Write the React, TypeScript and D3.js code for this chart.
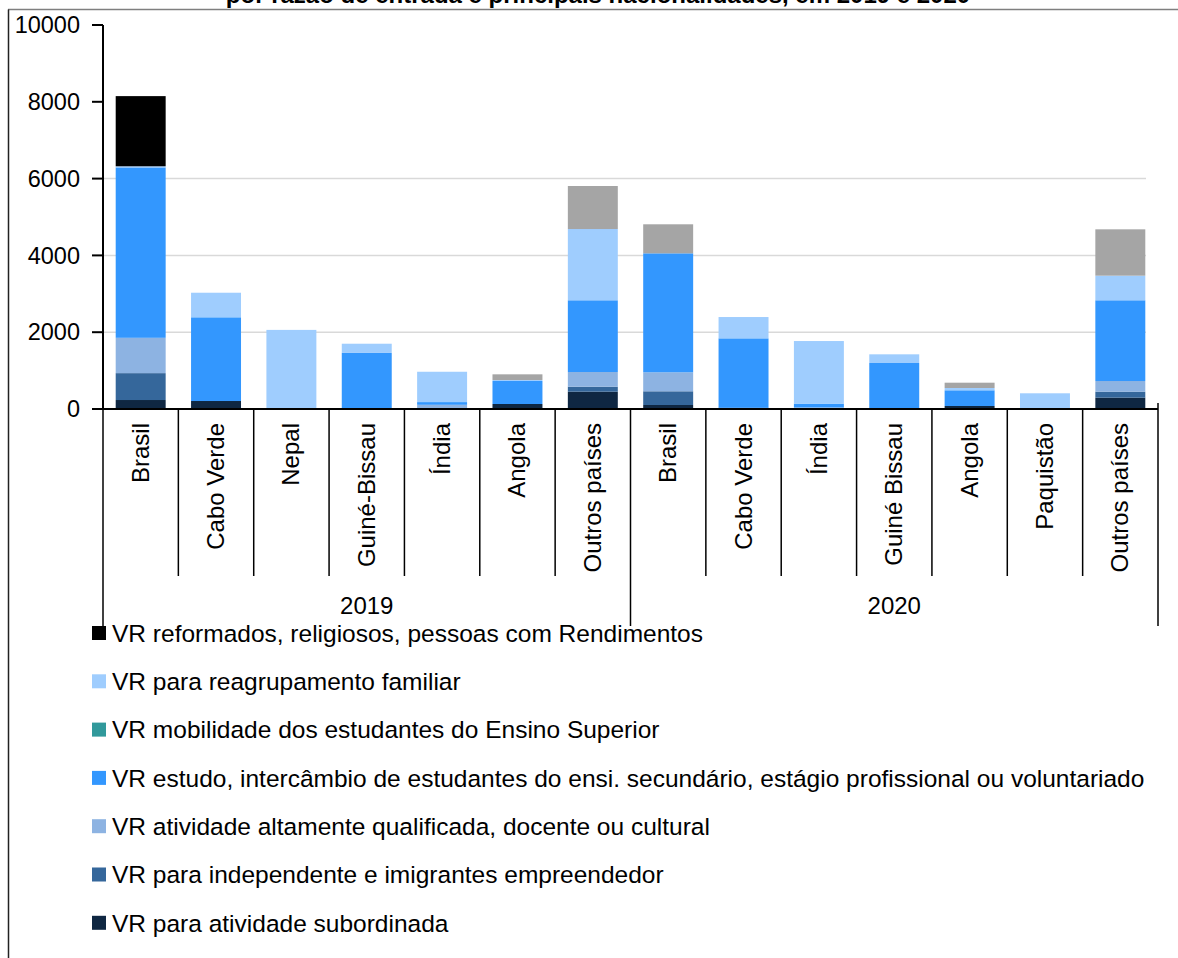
import React from 'react';
import * as d3 from 'd3';

// categories (two years, 7 nationalities each)
const years = ['2019', '2020'];
const countries = [
  'Brasil', 'Cabo Verde', 'Nepal', 'Guiné-Bissau', 'Índia', 'Angola', 'Outros países',
  'Brasil', 'Cabo Verde', 'Índia', 'Guiné Bissau', 'Angola', 'Paquistão', 'Outros países',
];

// series values, stacked bottom -> top
const subordinada = [234, 208, 0, 0, 0, 130, 451, 104, 30, 0, 0, 78, 0, 295];
const independente = [700, 0, 0, 0, 0, 0, 130, 357, 0, 0, 0, 0, 0, 156];
const altamente = [920, 0, 0, 0, 110, 0, 382, 495, 0, 40, 0, 0, 0, 278];
const estudo = [4437, 2180, 0, 1460, 70, 600, 1868, 3098, 1810, 100, 1198, 409, 0, 2102];
const mobilidade = [0, 0, 0, 0, 0, 0, 0, 0, 0, 0, 0, 0, 0, 0];
const reagrupamento = [30, 640, 2060, 240, 790, 25, 1856, 0, 555, 1630, 226, 60, 409, 641];
const reformados = [1827, 0, 0, 0, 0, 0, 0, 0, 0, 0, 0, 0, 0, 0];
const outras = [0, 0, 0, 0, 0, 148, 1120, 756, 0, 0, 0, 138, 0, 1207];

const yTicks = [0, 2000, 4000, 6000, 8000, 10000];
const gridTicks = [2000, 4000, 6000];

const series = [
  { key: 'sub', label: 'VR para atividade subordinada', color: '#0f2742', values: subordinada },
  { key: 'ind', label: 'VR para independente e imigrantes empreendedor', color: '#35679b', values: independente },
  { key: 'alt', label: 'VR atividade altamente qualificada, docente ou cultural', color: '#8db3e2', values: altamente },
  { key: 'est', label: 'VR estudo, intercâmbio de estudantes do ensi. secundário, estágio profissional ou voluntariado', color: '#3397fe', values: estudo },
  { key: 'mob', label: 'VR mobilidade dos estudantes do Ensino Superior', color: '#31999b', values: mobilidade },
  { key: 'reag', label: 'VR para reagrupamento familiar', color: '#9fcdfe', values: reagrupamento },
  { key: 'ref', label: 'VR reformados, religiosos, pessoas com Rendimentos', color: '#000000', values: reformados },
  { key: 'out', label: '', color: '#a5a5a5', values: outras },
];

const legendOrder = ['ref', 'reag', 'mob', 'est', 'alt', 'ind', 'sub'];

const FONT = '"Liberation Sans", Arial, sans-serif';

export default function App() {
  const x0 = 103, x1 = 1158, y0 = 409, yTop = 25;

  const rows = countries.map((c, i) => {
    const r: any = { i };
    series.forEach(s => { r[s.key] = s.values[i]; });
    return r;
  });
  const stacked = d3.stack().keys(series.map(s => s.key))(rows);

  const x = d3.scaleBand<number>()
    .domain(countries.map((_, i) => i))
    .range([x0, x1])
    .paddingInner(0.337)
    .paddingOuter(0.1685);
  const y = d3.scaleLinear().domain([0, 10000]).range([y0, yTop]);
  const step = x.step();
  const slot = (x1 - x0) / countries.length;

  return (
    <div style={{ position: 'absolute', left: 0, top: 0 }}>
      <svg width={1178} height={958} style={{ display: 'block', fontFamily: FONT }}>
        <rect width={1178} height={958} fill='#ffffff' />

        {/* title, cut at the top edge as in the source */}
        <text x={598} y={3} textAnchor='middle' fontSize={24} fontWeight='bold' fill='#000'>
          por razão de entrada e principais nacionalidades, em 2019 e 2020
        </text>

        {/* frame */}
        <line x1={8} x2={1178} y1={9.5} y2={9.5} stroke='#7f7f7f' strokeWidth={1.5} />
        <line x1={8.5} x2={8.5} y1={9.5} y2={958} stroke='#222' strokeWidth={1.5} />

        {/* grid */}
        {gridTicks.map(t => (
          <line key={t} x1={x0} x2={1146} y1={y(t)} y2={y(t)} stroke='#d9d9d9' strokeWidth={1.5} />
        ))}

        {/* bars */}
        {stacked.map((layer, li) => (
          <g key={layer.key} fill={series[li].color}>
            {layer.map((d, i) => {
              const h = y(d[0]) - y(d[1]);
              if (h <= 0) return null;
              return <rect key={i} x={x(i)} y={y(d[1])} width={x.bandwidth()} height={h} />;
            })}
          </g>
        ))}

        {/* y axis */}
        <line x1={x0} x2={x0} y1={yTop} y2={y0} stroke='#000' strokeWidth={2} />
        {yTicks.map(t => (
          <g key={t}>
            <line x1={x0 - 11} x2={x0} y1={y(t)} y2={y(t)} stroke='#000' strokeWidth={2} />
            <text x={80} y={y(t)} dy='0.35em' textAnchor='end' fontSize={23.5} fill='#000'>{t}</text>
          </g>
        ))}

        {/* x axis */}
        <line x1={x0} x2={x1} y1={y0} y2={y0} stroke='#000' strokeWidth={2} />
        {d3.range(countries.length + 1).map(k => {
          const xx = x0 + k * slot;
          const long = k % 7 === 0;
          return <line key={k} x1={xx} x2={xx} y1={long && k === 14 ? y0 - 6 : y0} y2={long ? 626 : 576} stroke='#000' strokeWidth={1.5} />;
        })}
        {countries.map((c, i) => {
          const cx = (x(i) as number) + x.bandwidth() / 2;
          return (
            <text key={i} transform={`translate(${cx + 8},${423}) rotate(-90)`} textAnchor='end' fontSize={24} fill='#000'>
              {c}
            </text>
          );
        })}
        {years.map((yr, g) => (
          <text key={yr} x={x0 + (g * 7 + 3.5) * step} y={614} textAnchor='middle' fontSize={24} fill='#000'>{yr}</text>
        ))}

        {/* legend */}
        {legendOrder.map((k, r) => {
          const s = series.find(v => v.key === k)!;
          const cy = 633 + r * 48.3;
          return (
            <g key={k}>
              <rect x={92} y={cy - 7} width={14} height={14} fill={s.color} />
              <text x={112} y={cy} dy='0.36em' fontSize={24.5} fill='#000'>{s.label}</text>
            </g>
          );
        })}
      </svg>
    </div>
  );
}
